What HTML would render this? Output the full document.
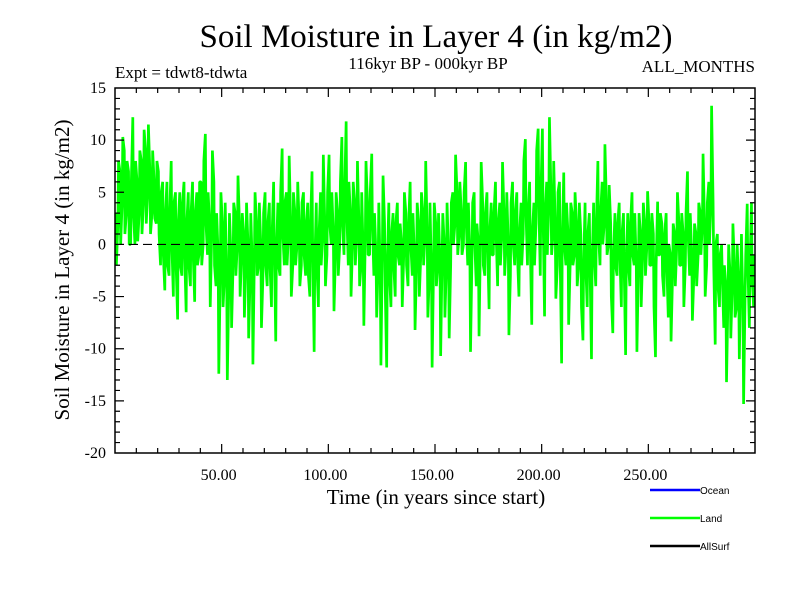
<!DOCTYPE html>
<html><head><meta charset="utf-8"><style>
body{margin:0;background:#fff}
svg{display:block}
text{font-family:"Liberation Serif",serif;fill:#000}
</style></head><body>
<svg id="chart" width="800" height="600" viewBox="0 0 800 600">
<text x="436" y="47" font-size="33" text-anchor="middle">Soil Moisture in Layer 4 (in kg/m2)</text>
<text x="115" y="78" font-size="17">Expt = tdwt8-tdwta</text>
<text x="428" y="69" font-size="17" text-anchor="middle">116kyr BP - 000kyr BP</text>
<text x="755" y="72" font-size="17" text-anchor="end">ALL_MONTHS</text>
<text x="436" y="504" font-size="21" text-anchor="middle">Time (in years since start)</text>
<text transform="translate(69,270) rotate(-90)" font-size="21" text-anchor="middle">Soil Moisture in Layer 4 (in kg/m2)</text>
<g id="plot"></g>
<g>
<line x1="650" y1="490" x2="700" y2="490" stroke="#0000ff" stroke-width="2.5"/>
<text x="700" y="494" font-size="10" style="font-family:'Liberation Sans',sans-serif">Ocean</text>
<line x1="650" y1="518" x2="700" y2="518" stroke="#00ff00" stroke-width="2.5"/>
<text x="700" y="522" font-size="10" style="font-family:'Liberation Sans',sans-serif">Land</text>
<line x1="650" y1="546" x2="700" y2="546" stroke="#000" stroke-width="2.5"/>
<text x="700" y="550" font-size="10" style="font-family:'Liberation Sans',sans-serif">AllSurf</text>
</g>
</svg>
<script>
const xTicks=[50,100,150,200,250];
const xTickLabels=["50.00","100.00","150.00","200.00","250.00"];
const yTicks=[-20,-15,-10,-5,0,5,10,15];
const yTickLabels=["-20","-15","-10","-5","0","5","10","15"];
const landHigh=[
3,8,7,10.3,9,8,7,6,12.2,8,
6,9,8,11,9,11.5,7,9,6,8,
7,5,6,3,6,3,8,4,5,2,
5,4,6,2,5,3,6,3,5,6,
6,8,10.6,5,2,9,6,3,-1,5,
2,4,-3,3,-1,4,3,6.6,2,3,
1,4,0,3,-2,5,2,4,0,3,
5,2,4,1,6,-1,4,5,9.2,4,
5,8.5,2,5,3,6,2,4,5,2,
4,2,7,-2,4,1,5,8.6,2,5,
8.6,5,1,5,3,6,10.3,5,11.8,6,
3,6,4,8,2,5,-1,8,4,5,
8.7,3,-1,4,-3,6.6,2,-2,4,1,
3,2,4,2,0,5,3,2,6,3,
-1,4,2,5,3,8,1,4,-3,4,
2,3,-2,3,0,4,-1,4,5,8.6,
5,6,3,5,7.9,4,-1,4,5,2,
0,7.9,4,3,5,1,4,3,6,2,
4,7.9,3,5,0,4,6,3,5,1,
4,8,10.1,3,6,1,4,9,11.1,5,
11.1,3,6,12.2,5,8,2,5,6,0,
6.9,4,1,4,3,5,2,4,1,-2,
4,1,3,-2,4,2,8,3,6,9.6,
4,5.7,2,-1,3,2,4,1,3,-2,
3,2,5,3,-2,3,1,4,2,5.1,
2,3,1,-2,4.1,3,2,1,3,0,
-1,2,1,5,2,3,1,3,7,3,
-1,2,1,4,3,8.7,2,4,6,13.3,
4.1,0,1,-1,0,-2,-4,0,-3,2,
-2,0,-4,1,-6,-1,3.9,-2,4,-1];
const landLow=[
-2,2,0,4,1,3,0,0,3,0,
0.3,3,1,4,2,5,1,3,2.5,2,
1,-2,-1,-4.4,-2,-3,0,-5,-2,-7.2,
-2,-3,-1,-6.5,-2,-4,-1,-5.5,-2,-1,
-2,0,2,-1,-6,1,-2,-4,-12.4,-3,
-6,-3,-13,-4,-8,-2,-3,0,-5,-1,
-7,-2,-9,-3,-11.5,-1,-3,-2,-8,-3,
-2,-4,-2,-6,0,-9.3,-2,-3,1,-2,
-2,1,-5,-2,-2,0,-4,-2,-1,-3,
-3,-5,0,-10.3,-2,-6,-2,1,-4,-1,
2,0,-6.4,-1,-3,0,2,-1,3,-2,
-5,0,-2,1,-4,-2,-7.8,1,-1,-1,
2,-3,-7,-2,-11.6,0,-4,-11.8,-3,-6,
-2,-5,-1,-2,-6,-1,-2,-4,0,-3,
-8.2,-2,-5,-1,-2,1,-7,-3,-11.8,-2,
-4,-2,-10.7,-1,-7,-2,-9,-2,0,2,
-1,1,-1,0,2,-2,-10.3,-1,0,-4,
-8.8,1,-2,-3,0,-6.2,-1,-1,1,-4,
-2,1,-3,0,-8.7,-3,0,-2,-1,-5,
-2,1,3,-2,0,-7.7,-2,2,4,-3,
3,-6.9,-1,4,-1,1,-5.2,-2,-1,-11.4,
0,-2,-7.7,-2,-2,-1,-4,-2,-6,-9.2,
-2,-6,-2,-11,-1,-4,1,-2,0,2,
-1,0,-5,-8.5,-2,-3,-1,-6,-2,-10.6,
-2,-4,-1,-2,-10.3,-2,-6,-1,-3,0,
-2,-2,-6,-10.8,-1,-1,-3,-5,-2,-7,
-9.3,-3,-4,0,-2,-2,-6,-2,1,-3,
-7.3,-3,-4,-1,-1,2,-5,-2,0,4,
-2,-9.6,-4,-6,-3,-8,-13.2,-5,-9,-4,
-7,-6,-11,-3,-15.3,-5,-2,-8,-3,-6];

const L=115,R=755,T=88,B=453,XMIN=0,XMAX=300,YMIN=-20,YMAX=15;
const xs=v=>L+(v-XMIN)/(XMAX-XMIN)*(R-L);
const ys=v=>B-(v-YMIN)/(YMAX-YMIN)*(B-T);
const NS="http://www.w3.org/2000/svg";
const g=document.getElementById('plot');
function mk(t,a){const e=document.createElementNS(NS,t);for(const k in a)e.setAttribute(k,a[k]);g.appendChild(e);return e;}

let pts=[];
landHigh.forEach((h,i)=>{
  const lo=landLow[i];
  if(i%2===0){pts.push([xs(i+0.35),ys(h)]);pts.push([xs(i+0.65),ys(lo)]);}
  else{pts.push([xs(i+0.35),ys(lo)]);pts.push([xs(i+0.65),ys(h)]);}
});
let d=pts.map((p,i)=>(i?'L':'M')+p[0].toFixed(2)+','+p[1].toFixed(2)).join('');
const ln=mk('path',{d:d,fill:'none',stroke:'#00ff00','stroke-width':2.7,'stroke-linejoin':'bevel'});



const z=mk('line',{x1:L,x2:R,y1:ys(0),y2:ys(0),stroke:'#000','stroke-width':1.2,'stroke-dasharray':'9,5'});



const fr=mk('rect',{x:L,y:T,width:R-L,height:B-T,fill:'none',stroke:'#000','stroke-width':1.5});



let tp='';
for(let v=10;v<XMAX;v+=10){const x=xs(v);const len=(v%50===0)?9:5;tp+=`M${x},${T}v${len}M${x},${B}v${-len}`;}
for(let v=YMIN+1;v<YMAX;v++){const y=ys(v);const len=(v%5===0)?9:5;tp+=`M${L},${y}h${len}M${R},${y}h${-len}`;}
const tk=mk('path',{d:tp,stroke:'#000','stroke-width':1.2,fill:'none'});



xTicks.forEach((v,i)=>{
 const t=mk('text',{x:xs(v)-3,y:480,'font-size':16,'text-anchor':'middle'});
 t.textContent=xTickLabels[i];
 
 
});
yTicks.forEach((v,i)=>{
 const t=mk('text',{x:106,y:ys(v)+5,'font-size':16,'text-anchor':'end'});
 t.textContent=yTickLabels[i];
 
 
});
</script>
</body></html>
